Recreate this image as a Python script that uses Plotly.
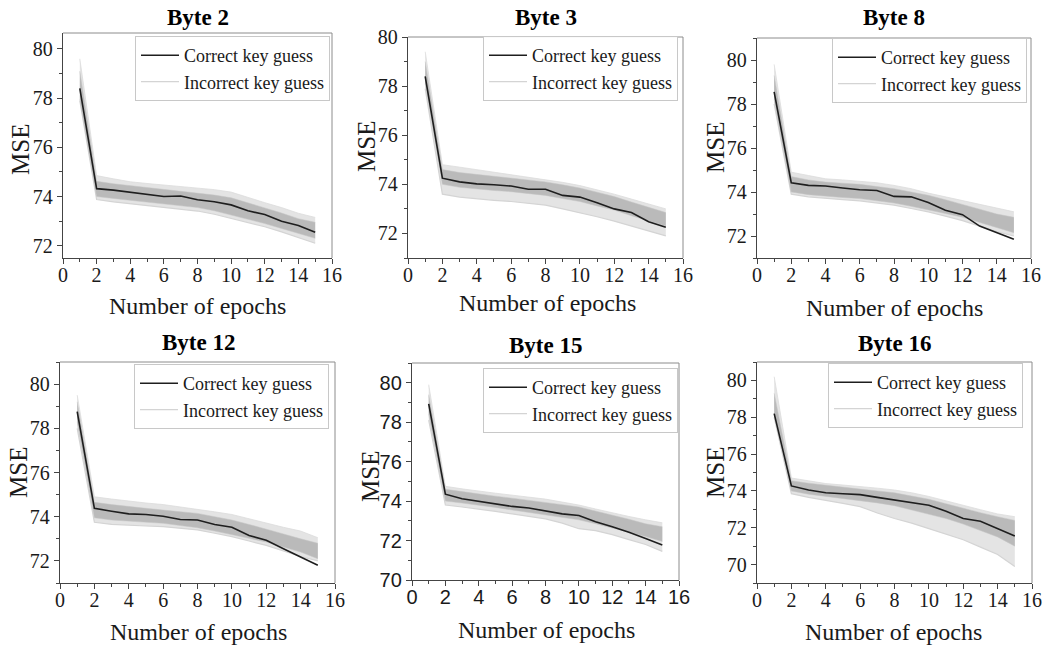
import plotly.graph_objects as go

W, H = 1043, 647

# ---------------- data ----------------
epochs = list(range(1, 16))
titles = ["Byte 2", "Byte 3", "Byte 8", "Byte 12", "Byte 15", "Byte 16"]
legend_names = ["Correct key guess", "Incorrect key guess"]
x_tick_vals = [0, 2, 4, 6, 8, 10, 12, 14, 16]

b2_correct = [78.40, 74.32, 74.26, 74.18, 74.08, 74.00, 74.02, 73.87, 73.79, 73.66, 73.42, 73.27, 72.99, 72.82, 72.55]
b2_outer_hi = [79.60, 74.85, 74.72, 74.60, 74.53, 74.47, 74.42, 74.36, 74.28, 74.18, 73.95, 73.75, 73.55, 73.32, 73.15]
b2_outer_lo = [77.90, 73.88, 73.78, 73.70, 73.62, 73.55, 73.48, 73.41, 73.28, 73.11, 72.95, 72.77, 72.56, 72.34, 72.10]
b2_core_hi = [79.10, 74.62, 74.52, 74.44, 74.37, 74.30, 74.23, 74.15, 74.06, 73.95, 73.75, 73.55, 73.33, 73.10, 72.95]
b2_core_lo = [77.95, 74.00, 73.92, 73.85, 73.77, 73.70, 73.63, 73.55, 73.42, 73.25, 73.08, 72.90, 72.70, 72.50, 72.30]

b3_correct = [78.40, 74.25, 74.10, 74.02, 73.98, 73.93, 73.80, 73.80, 73.55, 73.48, 73.25, 73.00, 72.85, 72.48, 72.25]
b3_outer_hi = [79.40, 74.80, 74.70, 74.60, 74.50, 74.40, 74.30, 74.20, 74.08, 73.95, 73.78, 73.60, 73.40, 73.20, 73.00]
b3_outer_lo = [77.90, 73.60, 73.48, 73.40, 73.35, 73.30, 73.22, 73.15, 73.00, 72.85, 72.68, 72.50, 72.30, 72.10, 71.90]
b3_core_hi = [79.00, 74.60, 74.48, 74.40, 74.32, 74.25, 74.18, 74.10, 73.98, 73.85, 73.68, 73.50, 73.28, 73.05, 72.85]
b3_core_lo = [78.10, 74.00, 73.88, 73.80, 73.75, 73.70, 73.62, 73.55, 73.42, 73.30, 73.12, 72.95, 72.72, 72.50, 72.30]

b8_correct = [78.55, 74.42, 74.30, 74.27, 74.18, 74.10, 74.07, 73.80, 73.78, 73.52, 73.17, 72.97, 72.45, 72.15, 71.85]
b8_outer_hi = [79.80, 74.90, 74.75, 74.60, 74.55, 74.50, 74.42, 74.30, 74.15, 73.95, 73.78, 73.60, 73.42, 73.25, 73.10]
b8_outer_lo = [78.00, 73.90, 73.78, 73.70, 73.65, 73.60, 73.50, 73.40, 73.25, 73.10, 72.90, 72.70, 72.45, 72.20, 72.00]
b8_core_hi = [79.30, 74.70, 74.55, 74.45, 74.40, 74.35, 74.25, 74.15, 74.00, 73.85, 73.65, 73.45, 73.22, 73.00, 72.85]
b8_core_lo = [78.20, 74.00, 73.88, 73.80, 73.75, 73.70, 73.60, 73.50, 73.35, 73.20, 73.02, 72.85, 72.62, 72.40, 72.15]

b12_correct = [78.75, 74.38, 74.25, 74.13, 74.10, 74.02, 73.87, 73.85, 73.65, 73.52, 73.15, 72.93, 72.55, 72.18, 71.80]
b12_outer_hi = [79.50, 74.90, 74.80, 74.70, 74.62, 74.55, 74.45, 74.35, 74.22, 74.10, 73.90, 73.70, 73.52, 73.35, 73.05]
b12_outer_lo = [78.00, 73.75, 73.65, 73.60, 73.58, 73.55, 73.48, 73.40, 73.25, 73.10, 72.90, 72.70, 72.45, 72.20, 72.00]
b12_core_hi = [79.20, 74.65, 74.55, 74.45, 74.38, 74.30, 74.22, 74.15, 74.00, 73.85, 73.65, 73.45, 73.22, 73.00, 72.80]
b12_core_lo = [78.30, 73.95, 73.85, 73.80, 73.75, 73.70, 73.60, 73.50, 73.35, 73.20, 73.02, 72.85, 72.62, 72.40, 72.10]

b15_correct = [78.93, 74.35, 74.12, 74.00, 73.87, 73.73, 73.65, 73.50, 73.35, 73.27, 72.95, 72.70, 72.42, 72.10, 71.78]
b15_outer_hi = [79.90, 74.75, 74.62, 74.50, 74.40, 74.30, 74.20, 74.10, 73.95, 73.80, 73.60, 73.40, 73.22, 73.05, 72.90]
b15_outer_lo = [78.10, 73.80, 73.70, 73.60, 73.48, 73.35, 73.22, 73.10, 72.88, 72.60, 72.50, 72.30, 72.05, 71.80, 71.45]
b15_core_hi = [79.40, 74.60, 74.48, 74.35, 74.25, 74.15, 74.05, 73.95, 73.82, 73.70, 73.50, 73.30, 73.08, 72.85, 72.70]
b15_core_lo = [78.40, 74.00, 73.90, 73.80, 73.68, 73.55, 73.42, 73.30, 73.18, 73.05, 72.85, 72.65, 72.42, 72.20, 71.95]

b16_correct = [78.20, 74.27, 74.05, 73.90, 73.85, 73.80, 73.65, 73.52, 73.35, 73.22, 72.90, 72.50, 72.35, 71.95, 71.55]
b16_outer_hi = [80.20, 74.70, 74.55, 74.40, 74.32, 74.25, 74.15, 74.05, 73.90, 73.70, 73.45, 73.20, 72.98, 72.75, 72.60]
b16_outer_lo = [78.00, 73.85, 73.65, 73.50, 73.32, 73.15, 72.80, 72.50, 72.25, 71.95, 71.65, 71.35, 70.95, 70.55, 69.90]
b16_core_hi = [79.30, 74.55, 74.42, 74.30, 74.20, 74.10, 74.00, 73.90, 73.72, 73.55, 73.30, 73.05, 72.82, 72.60, 72.40]
b16_core_lo = [78.20, 74.00, 73.82, 73.70, 73.60, 73.50, 73.35, 73.20, 72.98, 72.75, 72.50, 72.20, 71.85, 71.50, 71.00]

series = [
    (b2_correct, b2_outer_hi, b2_outer_lo, b2_core_hi, b2_core_lo),
    (b3_correct, b3_outer_hi, b3_outer_lo, b3_core_hi, b3_core_lo),
    (b8_correct, b8_outer_hi, b8_outer_lo, b8_core_hi, b8_core_lo),
    (b12_correct, b12_outer_hi, b12_outer_lo, b12_core_hi, b12_core_lo),
    (b15_correct, b15_outer_hi, b15_outer_lo, b15_core_hi, b15_core_lo),
    (b16_correct, b16_outer_hi, b16_outer_lo, b16_core_hi, b16_core_lo),
]

# ---------------- layout specs (pixels) ----------------
# plot-area boxes: (left, right, top, bottom)
boxes = [(63, 332, 33, 258), (408, 683, 37, 258), (757, 1031, 38, 258),
         (60, 335, 362, 583), (412, 679, 363, 580), (757, 1032, 362, 583)]
y_ranges = [(71.5, 80.65), (71, 80), (71, 81), (71, 81), (70, 81), (69, 81)]
title_pos = [(198, 18), (546, 18), (894, 18), (198, 342), (545, 345), (894, 343)]
ytitle_pos = [(21, 150), (367, 147), (715, 148), (18, 473), (370, 477), (715, 473)]
xtitle_pos = [(197, 306), (547, 303), (894, 308), (198, 632), (546, 630), (893, 632)]
legend_pos = [(135, 36), (483, 36), (832, 38), (134, 364), (483, 368), (828, 363)]
tick_fonts = ["Liberation Serif"] * 4 + ["Liberation Sans"] + ["Liberation Serif"]

SERIF = "Liberation Serif"
TXT = "#1a1a1a"

def px(x):
    return x / W

def py(y):
    return 1 - y / H

fig = go.Figure()
layout = dict(width=W, height=H, margin=dict(l=0, r=0, t=0, b=0, autoexpand=False),
              paper_bgcolor="white", plot_bgcolor="white",
              showlegend=True, annotations=[], shapes=[])

for i in range(6):
    s = "" if i == 0 else str(i + 1)
    xa, ya = "x" + s, "y" + s
    lg = "legend" + s
    corr, ohi, olo, chi, clo = series[i]

    fig.add_trace(go.Scatter(x=epochs, y=olo, mode="lines", xaxis=xa, yaxis=ya,
                             line=dict(color="#d4d4d4", width=1.2),
                             name=legend_names[1], legend=lg, legendrank=2,
                             showlegend=True, hoverinfo="skip"))
    fig.add_trace(go.Scatter(x=epochs, y=ohi, mode="lines", xaxis=xa, yaxis=ya,
                             line=dict(color="#dcdcdc", width=0.8), fill="tonexty",
                             fillcolor="#e4e4e4", showlegend=False, legend=lg, hoverinfo="skip"))
    fig.add_trace(go.Scatter(x=epochs, y=clo, mode="lines", xaxis=xa, yaxis=ya,
                             line=dict(color="#c4c4c4", width=0.5),
                             showlegend=False, legend=lg, hoverinfo="skip"))
    fig.add_trace(go.Scatter(x=epochs, y=chi, mode="lines", xaxis=xa, yaxis=ya,
                             line=dict(color="#c4c4c4", width=0.5), fill="tonexty",
                             fillcolor="#bababa", showlegend=False, legend=lg, hoverinfo="skip"))
    fig.add_trace(go.Scatter(x=epochs, y=corr, mode="lines", xaxis=xa, yaxis=ya,
                             line=dict(color="#1e1e1e", width=1.6),
                             name=legend_names[0], legend=lg, legendrank=1))

    l, r, t, b = boxes[i]
    tf = tick_fonts[i]
    layout["xaxis" + s] = dict(
        domain=[px(l), px(r)], anchor=ya, range=[0, 16], tickvals=x_tick_vals,
        ticks="outside", ticklen=5, tickwidth=1, tickcolor="#444", ticklabelstandoff=-6,
        showline=True, linecolor="#444", linewidth=1.3, showgrid=False, zeroline=False,
        tickfont=dict(family=tf, size=20, color=TXT),
        minor=dict(dtick=1, tick0=0, ticks="outside", ticklen=3, tickcolor="#444", showgrid=False),
        fixedrange=True)
    layout["yaxis" + s] = dict(
        domain=[py(b), py(t)], anchor=xa, range=list(y_ranges[i]), dtick=2, tick0=0,
        ticks="outside", ticklen=5, tickwidth=1, tickcolor="#444",
        showline=True, linecolor="#444", linewidth=1.3, showgrid=False, zeroline=False,
        tickfont=dict(family=tf, size=20, color=TXT),
        minor=dict(dtick=1, tick0=0, ticks="outside", ticklen=3, tickcolor="#444", showgrid=False),
        fixedrange=True)

    # top and right frame lines (lighter)
    layout["shapes"].append(dict(type="line", xref="x" + s + " domain", yref="y" + s + " domain",
                                 x0=0, x1=1, y0=1, y1=1, line=dict(color="#8c8c8c", width=1)))
    layout["shapes"].append(dict(type="line", xref="x" + s + " domain", yref="y" + s + " domain",
                                 x0=1, x1=1, y0=0, y1=1, line=dict(color="#8c8c8c", width=1)))

    lx, ly = legend_pos[i]
    layout[lg] = dict(x=px(lx), y=py(ly), xanchor="left", yanchor="top",
                      bgcolor="rgba(255,255,255,0.9)", bordercolor="#c8c8c8", borderwidth=1,
                      font=dict(family=SERIF, size=18, color=TXT), traceorder="normal",
                      tracegroupgap=0, itemwidth=38)

    tx, ty = title_pos[i]
    layout["annotations"].append(dict(text="<b>" + titles[i] + "</b>", x=px(tx), y=py(ty),
                                      xref="paper", yref="paper", showarrow=False,
                                      xanchor="center", yanchor="middle",
                                      font=dict(family=SERIF, size=23, color="#000")))
    yx, yy = ytitle_pos[i]
    layout["annotations"].append(dict(text="MSE", x=px(yx), y=py(yy), textangle=-90,
                                      xref="paper", yref="paper", showarrow=False,
                                      xanchor="center", yanchor="middle",
                                      font=dict(family=SERIF, size=25, color=TXT)))
    nx, ny = xtitle_pos[i]
    layout["annotations"].append(dict(text="Number of epochs", x=px(nx), y=py(ny),
                                      xref="paper", yref="paper", showarrow=False,
                                      xanchor="center", yanchor="middle",
                                      font=dict(family=SERIF, size=24, color=TXT)))

fig.update_layout(**layout)
fig.write_html("out.html",
               post_script="document.body.style.margin='0px';document.body.style.overflow='hidden';")
